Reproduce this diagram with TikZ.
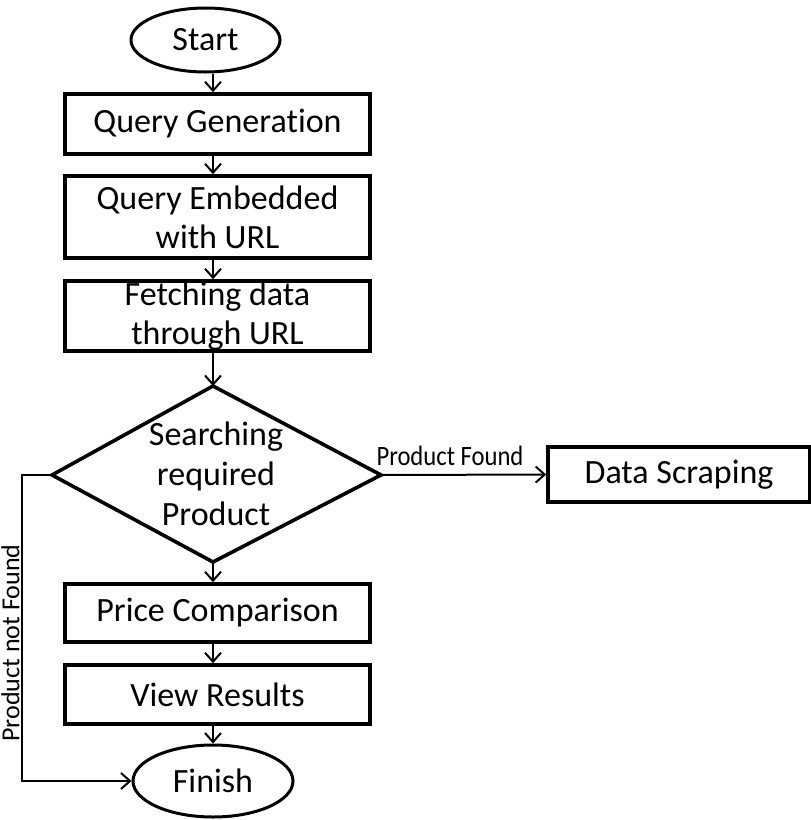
\documentclass[tikz,border=0pt]{standalone}
\usepackage{fontspec}
\setmainfont[Ligatures=NoCommon]{Carlito}
\usetikzlibrary{arrows.meta,shapes.geometric,calc}
\begin{document}
\begin{tikzpicture}[x=1pt,y=-1pt,
  boxline/.style={draw=black,line width=3.6pt},
  procbox/.style={boxline,rectangle,minimum width=305pt,inner sep=0pt,align=center,font=\fontsize{34}{39}\selectfont},
  term/.style={draw=black,line width=3pt,ellipse,inner sep=0pt,font=\fontsize{34}{39}\selectfont},
  arr/.style={draw=black,line width=2pt,-{Straight Barb[length=9pt,width=16pt,line width=2pt]}},
  lbl/.style={font=\fontsize{28}{30}\selectfont,inner sep=0pt,xscale=0.88}]
\useasboundingbox (0,0) rectangle (811,820);
\fill[white] (0,0) rectangle (811,820);
\coordinate (ax) at (213,0);
\node[term,minimum width=149pt,minimum height=64pt] (start) at (205.5,40) {Start};
\node[procbox,minimum height=60pt] (qg) at (217.5,124) {Query Generation};
\node[procbox,minimum height=82pt] (qe) at (217.5,217) {Query Embedded\\with URL};
\node[procbox,minimum height=70pt] (fd) at (217.5,316) {Fetching data\\through URL};
% decision diamond
\coordinate (dtop) at (213,386);
\coordinate (dright) at (381,475);
\coordinate (dbot) at (213,562);
\coordinate (dleft) at (52,475);
\draw[boxline,line join=miter] (dtop) -- (dright) -- (dbot) -- (dleft) -- cycle;
\node[align=center,inner sep=0pt,font=\fontsize{34}{40}\selectfont] (dec) at (216,474) {Searching\\required\\Product};
\node[boxline,rectangle,minimum width=262pt,minimum height=55pt,inner sep=0pt,font=\fontsize{34}{39}\selectfont] (ds) at (679,474.5) {Data Scraping};
\node[procbox,minimum height=58pt] (pc) at (217.5,613) {Price Comparison};
\node[procbox,minimum height=59pt] (vr) at (217.5,694.5) {View Results};
\node[term,minimum width=160pt,minimum height=72pt] (fin) at (213,781) {Finish};
% connectors
\draw[arr] (start.south -| ax) -- (qg.north -| ax);
\draw[arr] (qg.south -| ax) -- (qe.north -| ax);
\draw[arr] (qe.south -| ax) -- (fd.north -| ax);
\draw[arr] (fd.south -| ax) -- (dtop);
\draw[arr] (dright) -- (ds.west);
\node[lbl,anchor=base] (pf) at (450,465) {Product Found};
\draw[arr] (dbot) -- (pc.north -| ax);
\draw[arr] (pc.south -| ax) -- (vr.north -| ax);
\draw[arr] (vr.south -| ax) -- (fin.north -| ax);
\coordinate (pnf) at (22,475);
\draw[arr] (dleft) -- (pnf) |- (fin.west);
\node[font=\fontsize{26}{30}\selectfont,inner sep=0pt,rotate=90,anchor=base] (pnfl) at (19.5,643) {Product not Found};
\end{tikzpicture}
\end{document}
